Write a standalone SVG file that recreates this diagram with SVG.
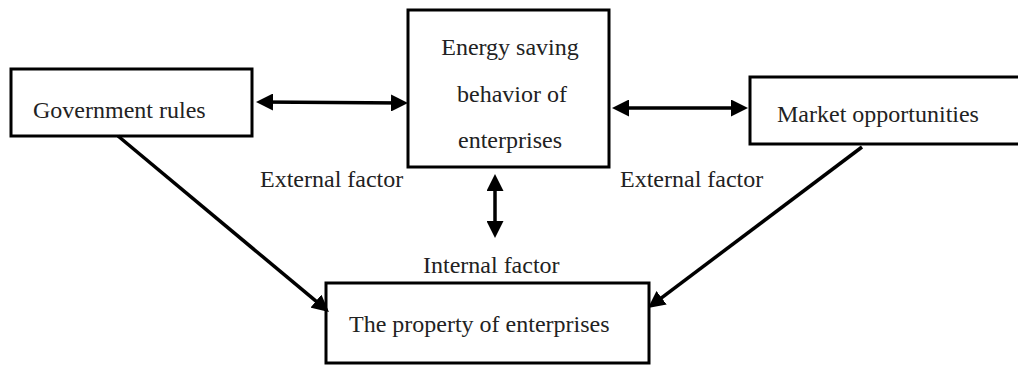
<svg xmlns="http://www.w3.org/2000/svg" width="1018" height="365" viewBox="0 0 1018 365">
<style>
.box{fill:#fff;stroke:#000;stroke-width:3}
.t{font-family:"Liberation Serif","Times New Roman",serif;font-size:24px;fill:#222}
.c{stroke:#000;stroke-width:3.5;fill:none}
</style>
<defs>
<marker id="ah" viewBox="0 0 17 17" markerWidth="17" markerHeight="17" refX="13" refY="8.5" markerUnits="userSpaceOnUse" orient="auto-start-reverse">
<path d="M0,0 L17,8.5 L0,17 z" fill="#000"/>
</marker>
</defs>
<rect width="1018" height="365" fill="#fff"/>
<g id="gov"><rect class="box" x="11" y="69" width="241" height="67"/><text class="t" x="33" y="118">Government rules</text></g>
<g id="energy"><rect class="box" x="408" y="10" width="201" height="157"/>
<text class="t" x="510" y="55" text-anchor="middle">Energy saving</text>
<text class="t" x="512" y="102" text-anchor="middle">behavior of</text>
<text class="t" x="510" y="148" text-anchor="middle">enterprises</text></g>
<g id="market"><rect class="box" x="750" y="77" width="280" height="67"/><text class="t" x="777" y="122">Market opportunities</text></g>
<g id="property"><rect class="box" x="326" y="283" width="323" height="80"/><text class="t" x="349" y="332">The property of enterprises</text></g>
<g id="labels">
<text class="t" x="260" y="187">External factor</text>
<text class="t" x="620" y="187">External factor</text>
<text class="t" x="423" y="273">Internal factor</text>
</g>
<g id="connectors">
<line class="c" x1="260" y1="102" x2="404" y2="103" marker-start="url(#ah)" marker-end="url(#ah)"/>
<line class="c" x1="616" y1="108" x2="744" y2="108" marker-start="url(#ah)" marker-end="url(#ah)"/>
<line class="c" x1="495" y1="178" x2="495" y2="234" marker-start="url(#ah)" marker-end="url(#ah)"/>
<line class="c" x1="118" y1="136" x2="325.9" y2="309.4" marker-end="url(#ah)"/>
<line class="c" x1="862" y1="147" x2="651.2" y2="305.6" marker-end="url(#ah)"/>
</g>
</svg>
